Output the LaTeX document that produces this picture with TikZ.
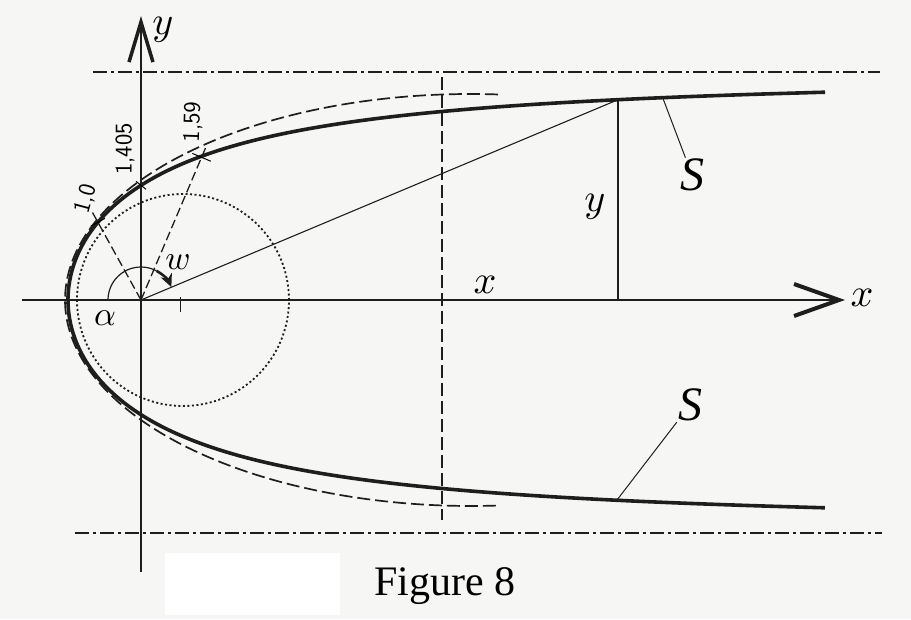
\documentclass[tikz,border=0pt]{standalone}
\usepackage{fontspec}
\newfontfamily\figfont{Liberation Serif}
\usetikzlibrary{arrows.meta}

\definecolor{paper}{RGB}{246,246,244}
\definecolor{ink}{RGB}{30,30,30}

\begin{document}
\begin{tikzpicture}[x=1pt,y=1pt,
    axis/.style={line width=1.6pt,draw=ink},
    centreline/.style={line width=1.8pt,draw=ink,dash pattern=on 14pt off 4pt on 3pt off 4pt},
    contour/.style={line width=3.6pt,draw=ink},
    compare/.style={line width=1.7pt,draw=ink,dash pattern=on 13pt off 5pt},
    circ/.style={line width=1.8pt,draw=ink,dash pattern=on 2pt off 2.5pt},
    ray/.style={line width=1.3pt,draw=ink,dash pattern=on 9pt off 4pt},
    leader/.style={line width=1pt,draw=ink},
    lettr/.style={inner sep=1pt,scale=4},
    greek/.style={inner sep=1pt,scale=3.4},
    slabel/.style={inner sep=1pt,font=\figfont\itshape\fontsize{48}{50}\selectfont},
    num/.style={inner sep=0pt,font=\sffamily\fontsize{24}{26}\selectfont}]
            % page and the blank patch
            \fill[paper] (-141,-319) rectangle (770,300);
            \useasboundingbox (-141,-319) rectangle (770,300);
            \fill[white] (24,-253) rectangle (199,-315);
            % points
            \def\bR{73}
            \coordinate (O) at (0,0);
            \coordinate (P) at (477,200.3);
            \coordinate (Pfoot) at (477,0);
            \coordinate (R1) at (119:88.9);
            \coordinate (R2) at (90:114.7);
            \coordinate (R3) at (67:155);
            \coordinate (Cu) at (522,201.5);
            \coordinate (Cl) at (476,-200);
            % axes and centre lines
            \draw[axis,-{Straight Barb[length=40pt,width=24pt,line width=3.5pt]}] (0,-272) -- (0,284);
            \draw[line width=1.2pt,draw=ink,-{Straight Barb[length=45pt,width=32pt,line width=4pt]}] (-119,0) -- (704,0);
            \draw[centreline] (-48,228) -- (739,228);
            \draw[centreline] (-66,-233) -- (741,-233);
            \draw[compare] (301,223) -- (301,-220);
            \draw[line width=1pt,draw=ink] (40,3) -- (40,-12);
            % comparison curve and circle
            \draw[compare] (330,0) ++(86.2:406 and 206)
                arc[start angle=86.2,end angle=273.8,x radius=406,y radius=206];
            \draw[circ] (42,0) circle[radius=106];
            % the contour S
            \draw[contour] plot[domain=16.9:343.1,samples=200,smooth]
                ({\bR*(pi-rad(\x))*cos(\x)/sin(\x)},{\bR*(pi-rad(\x))});
            % rays from the source
            \draw[ray] (O) -- (119:100);
            \draw[ray] (O) -- (67:168);
            \draw[line width=1pt] (R1) ++(29:8) -- ++(209:16);
            \draw[line width=1pt] (R2) ++(-5,4) -- ++(10,-8);
            \draw[line width=1pt] (R3) ++(-23:10) -- ++(157:20);
            \draw[line width=1.1pt,draw=ink] (O) -- (P);
            \draw[line width=1.4pt,draw=ink] (P) -- (Pfoot);
            % angle
            \draw[line width=1.2pt,draw=ink] (180:33) arc[start angle=180,end angle=62,radius=33];
            \draw[line width=2.6pt,draw=ink,-{Stealth[length=13pt,width=12pt]}]
                (62:33) arc[start angle=62,end angle=23,radius=33];
            % labels
            \draw (22,270) node[lettr] (ylab) {$y$};
            \draw (721,2) node[lettr] (xlab) {$x$};
            \draw (344,15) node[lettr] (xmid) {$x$};
            \draw (454,93) node[lettr] (ymid) {$y$};
            \draw (-36,-18) node[greek] (alab) {$\alpha$};
            \draw (37,38) node[greek] (wlab) {$w$};
            \draw (-55,101) node[num,rotate=75] (n1) {1,0};
            \draw (-16,151) node[num,rotate=90] (n2) {1,405};
            \draw (52,178) node[num,rotate=88] (n3) {1,59};
            \draw (551,125) node[slabel] (Su) {S};
            \draw (549,-105) node[slabel] (Sl) {S};
            \draw[leader] (Su) -- (Cu);
            \draw[leader] (Sl) -- (Cl);
            \node[font=\figfont\fontsize{42}{44}\selectfont,anchor=base] (cap) at (304,-295) {Figure 8};
\end{tikzpicture}
\end{document}
